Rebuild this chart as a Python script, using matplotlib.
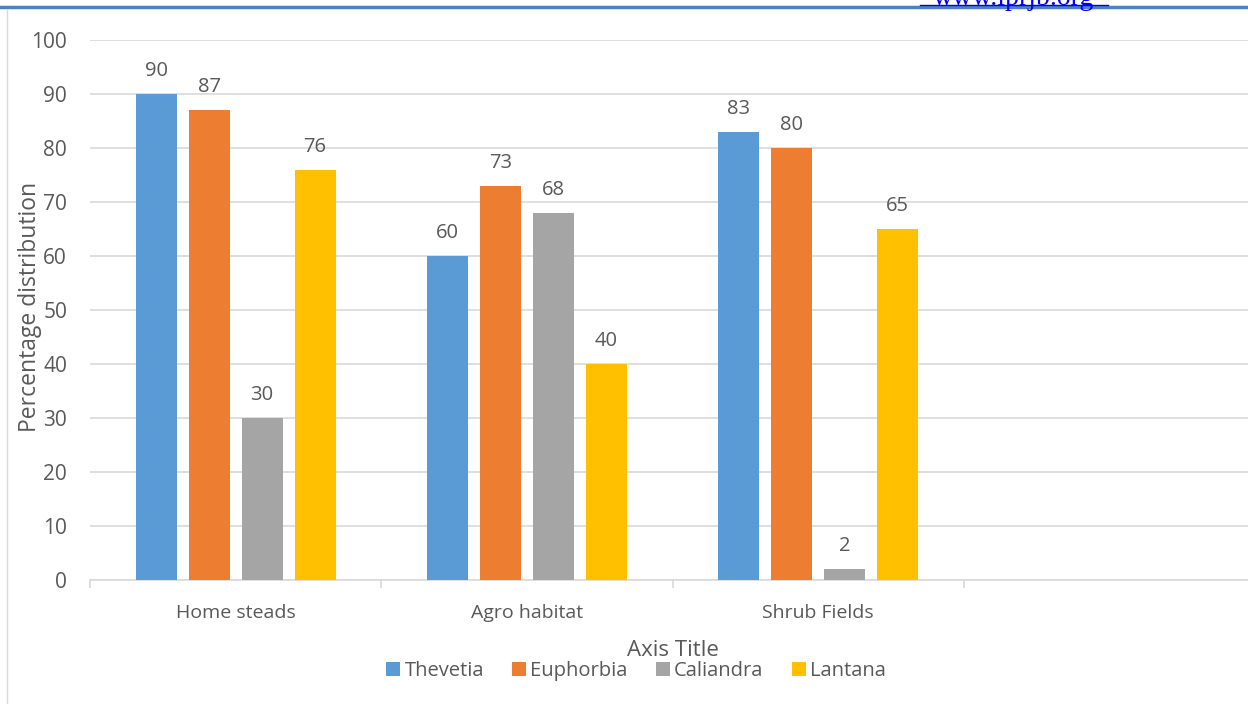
import matplotlib.pyplot as plt
from matplotlib.patches import Patch
from matplotlib.lines import Line2D

plt.rcParams['font.family'] = ['Open Sans', 'DejaVu Sans']

habitats = ["Home steads", "Agro habitat", "Shrub Fields", ""]
species = ["Thevetia", "Euphorbia", "Caliandra", "Lantana"]
thevetia = [90, 60, 83]
euphorbia = [87, 73, 80]
caliandra = [30, 68, 2]
lantana = [76, 40, 65]
values = [thevetia, euphorbia, caliandra, lantana]
colors = ["#5B9BD5", "#ED7D31", "#A5A5A5", "#FFC000"]
txt = "#595959"

W, H = 1248, 704
fig = plt.figure(figsize=(W / 100, H / 100), dpi=100)
ax = fig.add_axes([90 / W, 1 - 580 / H, 1165 / W, 540 / H])

bw = 41 / 291.3
step = 53 / 291.3
for i, (name, vals, c) in enumerate(zip(species, values, colors)):
    xs = [k + 0.5 + (i - 1.5) * step for k in range(len(vals))]
    ax.bar(xs, vals, width=bw, color=c, label=name, zorder=3)
    for x, v in zip(xs, vals):
        ax.annotate(str(v), (x, v), xytext=(0, 13), textcoords="offset points",
                    ha="center", va="baseline", fontsize=14.5, color=txt)

ax.set_xlim(0, 4)
ax.set_ylim(0, 100)
ax.set_yticks(range(0, 101, 10))
ax.yaxis.grid(True, color="#D9D9D9", linewidth=1.2, zorder=0)
ax.set_xticks([0, 1, 2, 3, 4])
ax.set_xticklabels([])
ax.set_xticks([0.5, 1.5, 2.5, 3.5], minor=True)
ax.set_xticklabels(habitats, minor=True, fontsize=14, color=txt)
ax.tick_params(axis="x", which="major", length=6, color="#D9D9D9", width=1.2)
ax.tick_params(axis="x", which="minor", length=0, pad=17)
ax.tick_params(axis="y", length=0, pad=16.5, labelsize=15, labelcolor=txt)
for s in ["top", "right", "left"]:
    ax.spines[s].set_visible(False)
ax.spines["bottom"].set_color("#D9D9D9")
ax.spines["bottom"].set_linewidth(1.2)

fig.text(30 / W, 1 - 307 / H, "Percentage distribution", rotation=90,
         ha="center", va="center", fontsize=16.5, color=txt)
fig.text(673 / W, 1 - 650 / H, "Axis Title", ha="center", va="center",
         fontsize=16, color=txt)

handles = [Patch(facecolor=c, label=n) for n, c in zip(species, colors)]
fig.legend(handles=handles, loc="center", bbox_to_anchor=(636 / W, 1 - 671 / H),
           ncol=4, frameon=False, fontsize=14.5, handlelength=0.7, handleheight=0.7,
           handletextpad=0.2, columnspacing=1.4, labelcolor=txt)

# page frame bits around the chart
fig.add_artist(Line2D([0, 1], [1 - 7 / H, 1 - 7 / H], color="#4F81BD", linewidth=2.5))
fig.add_artist(Line2D([7 / W, 7 / W], [0, 1 - 10 / H], color="#D9D9D9", linewidth=1))
fig.text(1014 / W, 1 - 5 / H, "www.iprjb.org", ha="center", va="baseline",
         fontsize=20, color="#0000FF", family="Liberation Serif")
fig.add_artist(Line2D([920 / W, 1108 / W], [1 - 5 / H, 1 - 5 / H], color="#0000FF", linewidth=1))

fig.savefig("out.png", dpi=100)
